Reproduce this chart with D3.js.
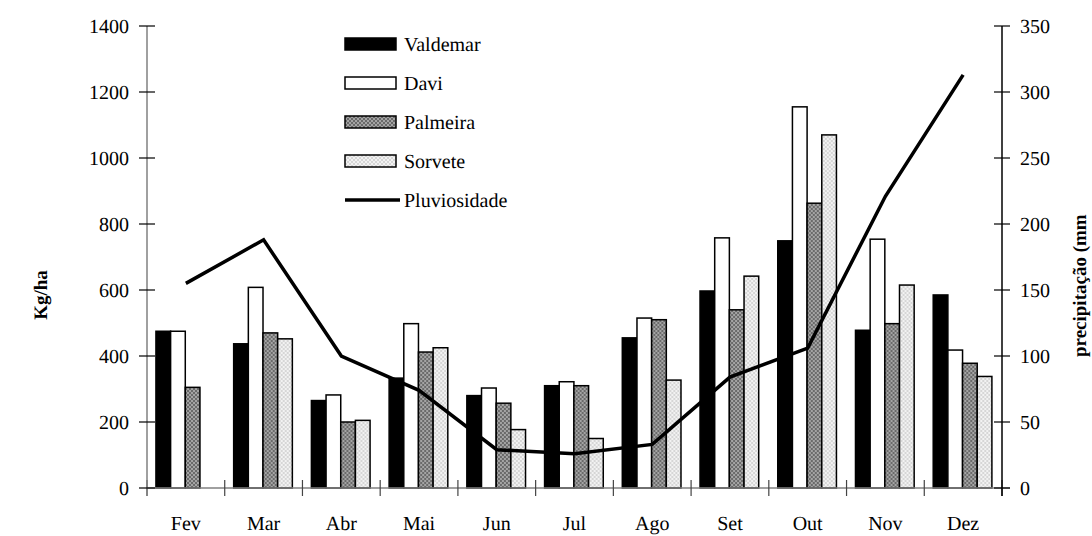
<!DOCTYPE html>
<html>
<head>
<meta charset="utf-8">
<script src="https://cdn.jsdelivr.net/npm/d3@7"></script>
<style>
  body { margin: 0; background: #fff; }
</style>
</head>
<body>
<div class="container"></div>
<script>
const months = ["Fev", "Mar", "Abr", "Mai", "Jun", "Jul", "Ago", "Set", "Out", "Nov", "Dez"];
const seriesNames = ["Valdemar", "Davi", "Palmeira", "Sorvete"];
const valdemar = [475, 437, 265, 333, 280, 310, 455, 597, 749, 478, 585];
const davi = [475, 608, 282, 498, 303, 322, 515, 758, 1155, 754, 418];
const palmeira = [305, 470, 200, 412, 257, 310, 510, 540, 863, 498, 378];
const sorvete = [null, 452, 205, 425, 177, 150, 327, 642, 1070, 615, 338];
const pluviosidade = [155, 188, 100, 74, 29, 26, 33, 84, 106, 221, 313];
const leftTicks = [0, 200, 400, 600, 800, 1000, 1200, 1400];
const rightTicks = [0, 50, 100, 150, 200, 250, 300, 350];

const FONT = "'Liberation Serif', 'Times New Roman', serif";

d3.select(".container").call(chart);

function chart(container) {
  //size
  const width = 1092;
  const height = 536;
  const margin = { left: 147, right: 90, top: 26, bottom: 48 };
  const x0 = margin.left;
  const x1 = width - margin.right;
  const y0 = height - margin.bottom;

  const values = [valdemar, davi, palmeira, sorvete];

  //scale
  const x = d3.scaleBand().domain(months).range([x0, x1]).padding(0);
  const xInner = d3
    .scaleBand()
    .domain(seriesNames)
    .range([x.bandwidth() * 0.115, x.bandwidth() * 0.87])
    .padding(0);
  const y = d3.scaleLinear().domain([0, 1400]).range([y0, margin.top]);
  const yRight = d3.scaleLinear().domain([0, 350]).range([y0, margin.top]);

  const svg = container
    .append("svg")
    .attr("width", width)
    .attr("height", height)
    .attr("text-rendering", "geometricPrecision");

  //patterns
  const defs = svg.append("defs");
  const pattern = (id, c1, c2) => {
    const p = defs
      .append("pattern")
      .attr("id", id)
      .attr("patternUnits", "userSpaceOnUse")
      .attr("width", 4)
      .attr("height", 4);
    p.append("rect").attr("width", 4).attr("height", 4).attr("fill", c1);
    p.append("rect").attr("width", 2).attr("height", 2).attr("fill", c2);
    p.append("rect").attr("x", 2).attr("y", 2).attr("width", 2).attr("height", 2).attr("fill", c2);
  };
  pattern("palm", "#6a6a6a", "#a4a4a4");
  pattern("sorv", "#d6d6d6", "#f2f2f2");
  const fills = ["#000", "#fff", "url(#palm)", "url(#sorv)"];

  //bars
  const rows = months.map((m, i) => ({
    month: m,
    bars: seriesNames.map((s, j) => ({ series: s, idx: j, value: values[j][i] })),
  }));

  svg
    .append("g")
    .selectAll("g")
    .data(rows)
    .join("g")
    .attr("transform", (d) => `translate(${x(d.month)},0)`)
    .selectAll("rect")
    .data((d) => d.bars.filter((b) => b.value != null))
    .join("rect")
    .attr("x", (d) => xInner(d.series))
    .attr("y", (d) => y(d.value))
    .attr("width", xInner.bandwidth())
    .attr("height", (d) => y0 - y(d.value))
    .attr("fill", (d) => fills[d.idx])
    .attr("stroke", "#000")
    .attr("stroke-width", 1.5);

  //axes
  const gx = svg.append("g");
  gx.append("line")
    .attr("x1", x0)
    .attr("x2", x1 + 8)
    .attr("y1", y0)
    .attr("y2", y0)
    .attr("stroke", "#808080")
    .attr("stroke-width", 1.5);
  gx.selectAll("line.tick")
    .data(d3.range(months.length + 1))
    .join("line")
    .attr("class", "tick")
    .attr("x1", (d) => x0 + d * x.step())
    .attr("x2", (d) => x0 + d * x.step())
    .attr("y1", y0 - 8)
    .attr("y2", y0 + 8)
    .attr("stroke", "#444")
    .attr("stroke-width", 1.2);
  gx.selectAll("text")
    .data(months)
    .join("text")
    .style("font-family", FONT)
    .attr("x", (d) => x(d) + x.bandwidth() / 2)
    .attr("y", y0 + 42)
    .attr("text-anchor", "middle")
    .attr("font-size", 20)
    .text((d) => d);

  const gl = svg.append("g");
  gl.append("line")
    .attr("x1", x0)
    .attr("x2", x0)
    .attr("y1", margin.top)
    .attr("y2", y0 + 8)
    .attr("stroke", "#808080")
    .attr("stroke-width", 1.5);
  gl.selectAll("line.tick")
    .data(leftTicks)
    .join("line")
    .attr("class", "tick")
    .attr("x1", x0 - 8)
    .attr("x2", x0 + 8)
    .attr("y1", (d) => y(d))
    .attr("y2", (d) => y(d))
    .attr("stroke", "#000")
    .attr("stroke-width", 1.2);
  gl.selectAll("text")
    .data(leftTicks)
    .join("text")
    .style("font-family", FONT)
    .attr("x", x0 - 18)
    .attr("y", (d) => y(d))
    .attr("dy", "0.35em")
    .attr("text-anchor", "end")
    .attr("font-size", 20)
    .text((d) => d);

  const gr = svg.append("g");
  gr.append("line")
    .attr("x1", x1)
    .attr("x2", x1)
    .attr("y1", margin.top)
    .attr("y2", y0 + 8)
    .attr("stroke", "#000")
    .attr("stroke-width", 1.5);
  gr.selectAll("line.tick")
    .data(rightTicks)
    .join("line")
    .attr("class", "tick")
    .attr("x1", x1 - 8)
    .attr("x2", x1 + 8)
    .attr("y1", (d) => yRight(d))
    .attr("y2", (d) => yRight(d))
    .attr("stroke", "#000")
    .attr("stroke-width", 1.2);
  gr.selectAll("text")
    .data(rightTicks)
    .join("text")
    .style("font-family", FONT)
    .attr("x", x1 + 18)
    .attr("y", (d) => yRight(d))
    .attr("dy", "0.35em")
    .attr("text-anchor", "start")
    .attr("font-size", 20)
    .text((d) => d);

  //axis titles
  svg
    .append("text")
    .style("font-family", FONT)
    .attr("transform", "translate(47,295) rotate(-90)")
    .attr("text-anchor", "middle")
    .attr("font-size", 19)
    .attr("font-weight", "bold")
    .text("Kg/ha");
  svg
    .append("text")
    .style("font-family", FONT)
    .attr("transform", "translate(1086,357) rotate(-90)")
    .attr("text-anchor", "start")
    .attr("font-size", 19)
    .attr("font-weight", "bold")
    .text("precipitação (mm");

  //line
  const line = d3
    .line()
    .x((d, i) => x(months[i]) + x.bandwidth() / 2)
    .y((d) => yRight(d));
  svg
    .append("path")
    .datum(pluviosidade)
    .attr("fill", "none")
    .attr("stroke", "#000")
    .attr("stroke-width", 3.5)
    .attr("stroke-linejoin", "miter")
    .attr("d", line);

  //legend
  const legendItems = [...seriesNames, "Pluviosidade"];
  const lg = svg
    .append("g")
    .attr("transform", "translate(345,44)")
    .selectAll("g")
    .data(legendItems)
    .join("g")
    .attr("transform", (d, i) => `translate(0,${i * 39})`);
  lg.filter((d, i) => i < 4)
    .append("rect")
    .attr("x", 0)
    .attr("y", -6)
    .attr("width", 51)
    .attr("height", 12)
    .attr("fill", (d, i) => fills[i])
    .attr("stroke", "#000")
    .attr("stroke-width", 1.5);
  lg.filter((d, i) => i == 4)
    .append("line")
    .attr("x1", 0)
    .attr("x2", 55)
    .attr("y1", 0)
    .attr("y2", 0)
    .attr("stroke", "#000")
    .attr("stroke-width", 3.5);
  lg.append("text")
    .style("font-family", FONT)
    .attr("x", 59)
    .attr("y", 0)
    .attr("dy", "0.35em")
    .attr("font-size", 20)
    .text((d) => d);
}
</script>
</body>
</html>
